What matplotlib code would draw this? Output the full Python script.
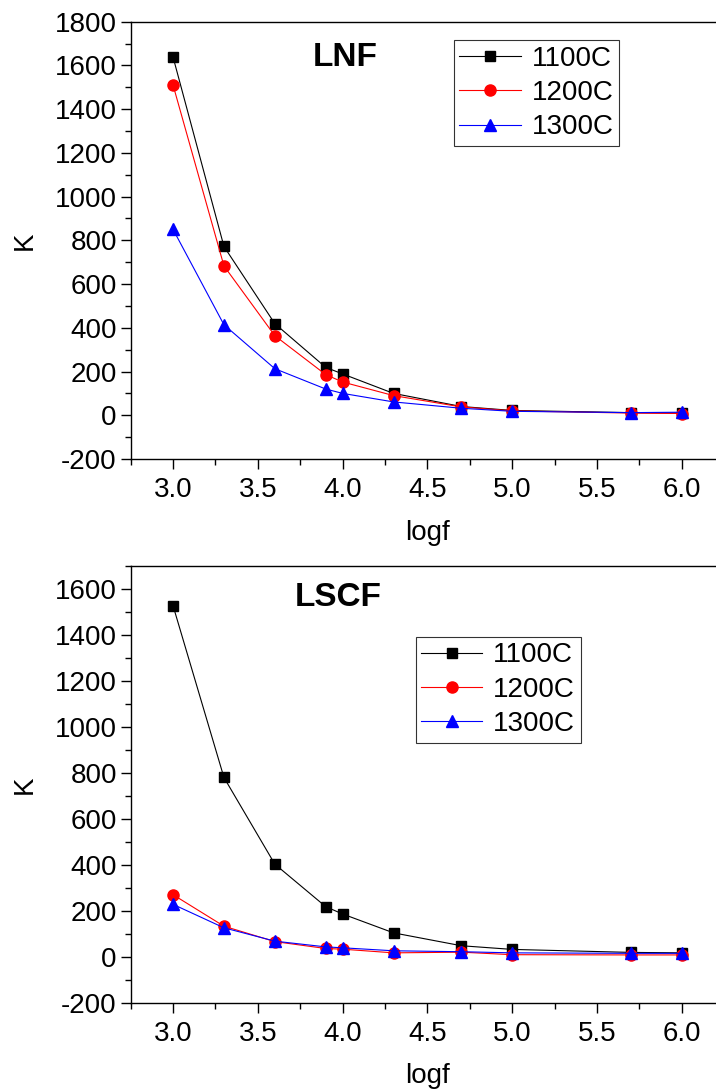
import matplotlib
matplotlib.use("Agg")
import matplotlib.pyplot as plt
from matplotlib.ticker import MultipleLocator

plt.rcParams['font.family'] = ['Liberation Sans', 'DejaVu Sans']
plt.rcParams['axes.unicode_minus'] = False

# log of frequency
logf = [3.0, 3.3, 3.6, 3.9, 4.0, 4.3, 4.7, 5.0, 5.7, 6.0]
temps = ['1100C', '1200C', '1300C']

# LNF
lnf_1100 = [1638, 772, 419, 219, 189, 100, 40, 22, 12, 10]
lnf_1200 = [1510, 683, 364, 186, 152, 90, 38, 20, 10, 8]
lnf_1300 = [850, 414, 213, 120, 100, 61, 32, 18, 12, 14]

# LSCF
lscf_1100 = [1527, 780, 403, 218, 186, 104, 48, 32, 19, 17]
lscf_1200 = [270, 133, 66, 36, 33, 17, 20, 9, 8, 8]
lscf_1300 = [228, 126, 68, 43, 39, 26, 22, 17, 15, 15]

styles = [
    dict(color='black', marker='s', ms=6.5),
    dict(color='red', marker='o', ms=8),
    dict(color='blue', marker='^', ms=9),
]

fig = plt.figure(figsize=(7.16, 10.91), dpi=100)
ax1 = fig.add_axes([0.1825, 0.5793, 0.829, 0.4008])
ax2 = fig.add_axes([0.1825, 0.0809, 0.829, 0.4003])


def draw_panel(ax, series, ylim, title, title_xy, leg_xy):
    for vals, name, st in zip(series, temps, styles):
        ax.plot(logf, vals, lw=0.8, label=name, **st)
    ax.set_xlim(2.75, 6.25)
    ax.set_ylim(*ylim)
    ax.xaxis.set_major_locator(MultipleLocator(0.5))
    ax.xaxis.set_minor_locator(MultipleLocator(0.25))
    ax.yaxis.set_major_locator(MultipleLocator(200))
    ax.yaxis.set_minor_locator(MultipleLocator(100))
    ax.xaxis.set_major_formatter(plt.FormatStrFormatter('%.1f'))
    ax.tick_params(which='major', direction='out', length=7, width=1,
                   labelsize=20, top=False, right=False)
    ax.tick_params(axis='x', which='major', pad=6)
    ax.tick_params(axis='y', which='major', pad=3)
    ax.tick_params(which='minor', direction='out', length=4, width=1,
                   top=False, right=False)
    for sp in ax.spines.values():
        sp.set_linewidth(1.0)
    ax.set_xlabel('logf', fontsize=20, labelpad=12)
    ax.set_ylabel('K', fontsize=20, labelpad=12)
    ax.text(title_xy[0], title_xy[1], title, transform=ax.transAxes,
            fontsize=24, fontweight='bold', ha='center', va='center')
    leg = ax.legend(loc='upper left', bbox_to_anchor=leg_xy, borderaxespad=0,
                    fontsize=20, frameon=True, fancybox=False, numpoints=1,
                    handlelength=2.2, handletextpad=0.4, labelspacing=0.3,
                    borderpad=0.2)
    leg.get_frame().set_edgecolor('black')
    leg.get_frame().set_linewidth(0.8)


draw_panel(ax1, [lnf_1100, lnf_1200, lnf_1300], (-200, 1800), 'LNF',
           (0.361, 0.919), (0.5446, 0.958))
draw_panel(ax2, [lscf_1100, lscf_1200, lscf_1300], (-200, 1700), 'LSCF',
           (0.349, 0.929), (0.480, 0.838))

fig.savefig('out.png', dpi=100)
